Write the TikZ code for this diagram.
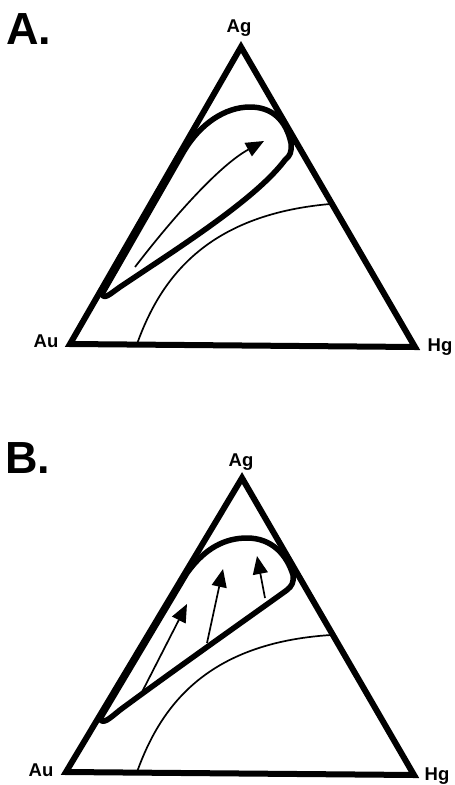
\documentclass[tikz,border=0pt]{standalone}
\usepackage{fontspec}
\setmainfont{Liberation Sans}
\usetikzlibrary{arrows.meta}
\begin{document}
\begin{tikzpicture}[x=1pt,y=-1pt,
  frame/.style={line width=6pt, line join=miter},
  loopline/.style={line width=5.5pt, line cap=round, line join=round},
  thinline/.style={line width=1.7pt},
  arr/.style={line width=1.7pt, -{Triangle[length=18pt,width=15pt]}},
  lbl/.style={font=\bfseries\fontsize{18.5}{18.5}\selectfont, anchor=base, inner sep=0pt},
  panel/.style={font=\bfseries\fontsize{45}{45}\selectfont, anchor=base west, inner sep=0pt}]
\useasboundingbox (0,0) rectangle (455,785);

% ---------- Panel A ----------
\node[panel] (labA) at (6,44) {A.};
\coordinate (agA) at (241,47);
\coordinate (auA) at (70,344);
\coordinate (hgA) at (415,347);
\node[lbl] (tagA) at (239,32) {Ag};
\node[lbl] (tauA) at (46,347) {Au};
\node[lbl] (thgA) at (440,351) {Hg};
\draw[frame] (agA) -- (auA) -- (hgA) -- cycle;
\coordinate (cAs) at (137,344);
\coordinate (cAe) at (330,204);
\draw[thinline] (cAs) .. controls (160,280) and (205,215) .. (cAe);
\draw[loopline] (102,294) -- (184,151)
  .. controls (200,124) and (225,107) .. (250,107)
  .. controls (272,107) and (286,120) .. (291,143)
  .. controls (292,152) and (290,156) .. (285,160)
  .. controls (255,200) and (175,250) .. (120,287)
  .. controls (110,294) and (104,300) .. (102,294) -- cycle;
\coordinate (aAs) at (135,267);
\coordinate (aAe) at (264,141);
\draw[arr] (aAs) .. controls (175,215) and (220,165) .. (aAe);

% ---------- Panel B ----------
\node[panel] (labB) at (5,473) {B.};
\coordinate (agB) at (242,478);
\coordinate (auB) at (66,772);
\coordinate (hgB) at (414,775);
\node[lbl] (tagB) at (241,466) {Ag};
\node[lbl] (tauB) at (41,776) {Au};
\node[lbl] (thgB) at (437,780) {Hg};
\draw[frame] (agB) -- (auB) -- (hgB) -- cycle;
\coordinate (cBs) at (137,772);
\coordinate (cBe) at (331,635);
\draw[thinline] (cBs) .. controls (160,708) and (205,643) .. (cBe);
\draw[loopline] (100,719) -- (187,573)
  .. controls (205,548) and (225,538) .. (247,538)
  .. controls (272,538) and (287,555) .. (293,575)
  .. controls (294,582) and (292,586) .. (287,590)
  .. controls (255,613) and (170,673) .. (120,710)
  .. controls (110,718) and (103,725) .. (100,719) -- cycle;
\coordinate (b1s) at (142,692);
\coordinate (b1e) at (187,604);
\coordinate (b2s) at (207,643);
\coordinate (b2e) at (223,569);
\coordinate (b3s) at (265,598);
\coordinate (b3e) at (257,556);
\draw[arr] (b1s) -- (b1e);
\draw[arr] (b2s) -- (b2e);
\draw[arr] (b3s) -- (b3e);
\end{tikzpicture}
\end{document}
